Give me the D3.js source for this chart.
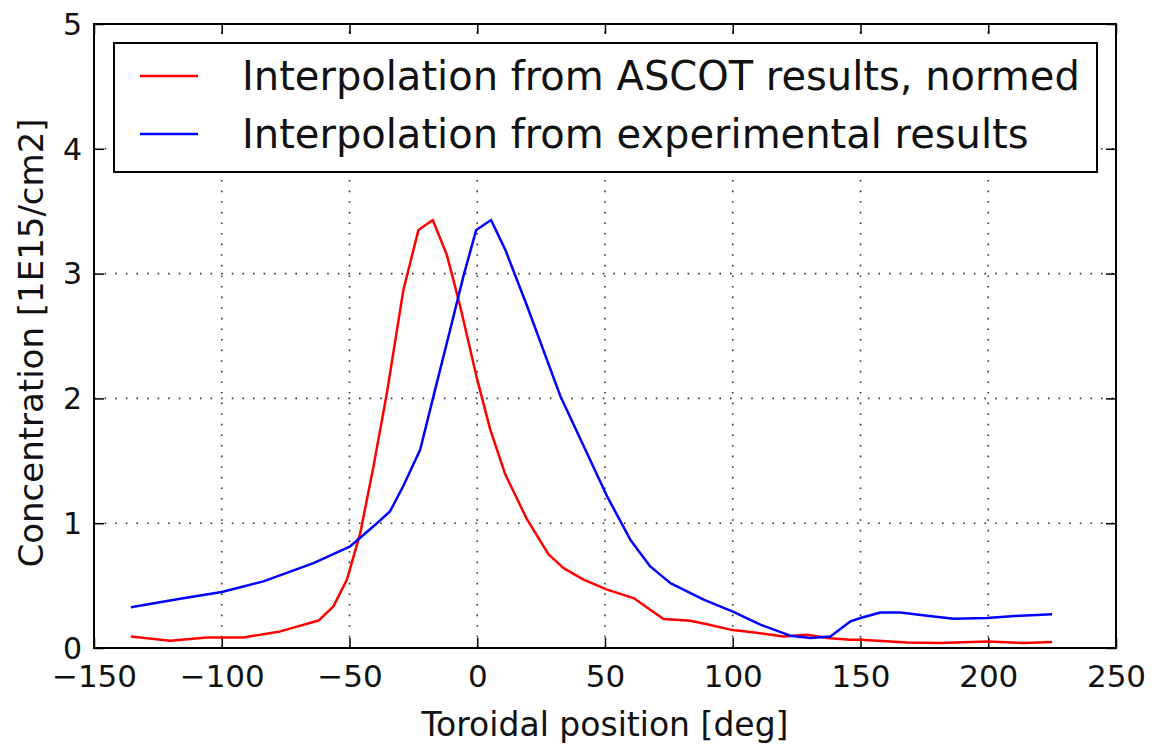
<!DOCTYPE html>
<html>
<head>
<meta charset="utf-8">
<script src="https://cdn.jsdelivr.net/npm/d3@7"></script>
<style>
  html, body { margin: 0; padding: 0; background: #fff; }
  svg text { font-family: "DejaVu Sans", sans-serif; fill: #111; }
</style>
</head>
<body>
<svg id="chart" width="1155" height="749"></svg>
<script>
// Toroidal position [deg] and concentration [1E15/cm2] for each interpolated profile
const ascotX = [-135.6, -120.2, -105.8, -91.5, -77.1, -62.1, -56.3, -51.0, -45.8, -40.6, -35.4, -28.9, -23.0, -17.4, -11.9, -6.7, 0.0, 5.1, 11.0, 19.5, 27.9, 33.8, 41.6, 50.8, 61.2, 67.7, 72.9, 83.4, 89.9, 99.1, 106.9, 119.9, 129.1, 136.9, 146.0, 150.0, 168.2, 181.3, 199.6, 213.9, 225.0];
const ascotY = [0.093, 0.058, 0.085, 0.085, 0.133, 0.22, 0.334, 0.548, 0.92, 1.456, 2.04, 2.87, 3.35, 3.43, 3.15, 2.74, 2.15, 1.75, 1.39, 1.03, 0.75, 0.64, 0.548, 0.468, 0.40, 0.307, 0.232, 0.219, 0.19, 0.147, 0.128, 0.093, 0.107, 0.08, 0.067, 0.067, 0.045, 0.04, 0.053, 0.04, 0.048];

const exptX = [-135.6, -116.3, -100.0, -83.7, -64.1, -49.7, -40.6, -34.1, -28.9, -22.3, -17.1, -10.6, -5.4, -0.4, 5.4, 11.0, 19.5, 32.5, 41.6, 50.8, 59.9, 67.7, 75.6, 88.6, 100.3, 110.8, 122.5, 130.4, 138.2, 146.0, 150.0, 157.8, 165.6, 176.1, 186.5, 199.6, 212.6, 225.0];
const exptY = [0.326, 0.395, 0.449, 0.534, 0.68, 0.815, 0.975, 1.096, 1.30, 1.59, 2.02, 2.55, 2.98, 3.35, 3.43, 3.19, 2.74, 2.02, 1.62, 1.216, 0.868, 0.654, 0.52, 0.387, 0.289, 0.187, 0.099, 0.08, 0.093, 0.213, 0.24, 0.285, 0.285, 0.259, 0.235, 0.24, 0.259, 0.27];

const xTicks = [-150, -100, -50, 0, 50, 100, 150, 200, 250];
const yTicks = [0, 1, 2, 3, 4, 5];
const seriesNames = ["Interpolation from ASCOT results, normed", "Interpolation from experimental results"];
const seriesColors = ["#ff0000", "#0000ff"];

const svg = d3.select("#chart");
const margin = { left: 94, right: 1116, top: 24, bottom: 648 };

const x = d3.scaleLinear().domain([-150, 250]).range([margin.left, margin.right]);
const y = d3.scaleLinear().domain([0, 5]).range([margin.bottom, margin.top]);

// Dotted grid
const grid = svg.append("g").attr("stroke", "#000").attr("stroke-width", 1.6)
  .attr("stroke-dasharray", "1.6,9").attr("opacity", 0.8);
grid.selectAll(".gx").data(xTicks.slice(1, -1)).join("line")
  .attr("x1", d => x(d)).attr("x2", d => x(d))
  .attr("y1", margin.bottom).attr("y2", margin.top);
grid.selectAll(".gy").data(yTicks.slice(1, -1)).join("line")
  .attr("x1", margin.left).attr("x2", margin.right)
  .attr("y1", d => y(d)).attr("y2", d => y(d));

// Axes with inward ticks on all four sides
const tickLen = 10;
const fmt = d => d < 0 ? "\u2212" + Math.abs(d) : String(d);
const axB = svg.append("g").attr("transform", `translate(0,${margin.bottom})`)
  .call(d3.axisBottom(x).tickValues(xTicks).tickSize(-tickLen).tickPadding(16).tickFormat(fmt));
const axT = svg.append("g").attr("transform", `translate(0,${margin.top})`)
  .call(d3.axisTop(x).tickValues(xTicks).tickSize(-tickLen).tickFormat(""));
const axL = svg.append("g").attr("transform", `translate(${margin.left},0)`)
  .call(d3.axisLeft(y).tickValues(yTicks).tickSize(-tickLen).tickPadding(12).tickFormat(fmt));
const axR = svg.append("g").attr("transform", `translate(${margin.right},0)`)
  .call(d3.axisRight(y).tickValues(yTicks).tickSize(-tickLen).tickFormat(""));
[axB, axT, axL, axR].forEach(g => {
  g.selectAll(".domain").remove();
  g.selectAll(".tick line").attr("stroke", "#000").attr("stroke-width", 1.5);
  g.selectAll("text").attr("font-family", "DejaVu Sans").attr("fill", "#111");
});
axB.selectAll("text").attr("font-size", 31).attr("dy", "0.73em");
axL.selectAll("text").attr("font-size", 30).attr("dy", "0.34em");

// Curves
const line = d3.line().x(d => x(d[0])).y(d => y(d[1]));
const curves = [d3.zip(ascotX, ascotY), d3.zip(exptX, exptY)];
svg.append("g").attr("fill", "none").attr("stroke-width", 2.5).attr("stroke-linejoin", "round")
  .selectAll("path").data(curves).join("path")
  .attr("stroke", (d, i) => seriesColors[i])
  .attr("d", line);

// Frame
svg.append("rect")
  .attr("x", margin.left).attr("y", margin.top)
  .attr("width", margin.right - margin.left).attr("height", margin.bottom - margin.top)
  .attr("fill", "none").attr("stroke", "#000").attr("stroke-width", 2);

// Legend
const leg = svg.append("g");
leg.append("rect").attr("x", 114).attr("y", 43).attr("width", 983).attr("height", 129)
  .attr("fill", "#fff").attr("stroke", "#000").attr("stroke-width", 2);
seriesNames.forEach((name, i) => {
  const yy = 76 + i * 58;
  leg.append("line").attr("x1", 140).attr("x2", 198).attr("y1", yy).attr("y2", yy)
    .attr("stroke", seriesColors[i]).attr("stroke-width", 2.5);
  leg.append("text").attr("x", 242).attr("y", yy + 14)
    .attr("font-size", 40).text(name);
});

// Axis titles
svg.append("text").attr("x", 605).attr("y", 736).attr("text-anchor", "middle")
  .attr("font-size", 33).text("Toroidal position [deg]");
svg.append("text").attr("transform", `translate(43,343) rotate(-90)`)
  .attr("text-anchor", "middle").attr("font-size", 34).text("Concentration [1E15/cm2]");
</script>
</body>
</html>
